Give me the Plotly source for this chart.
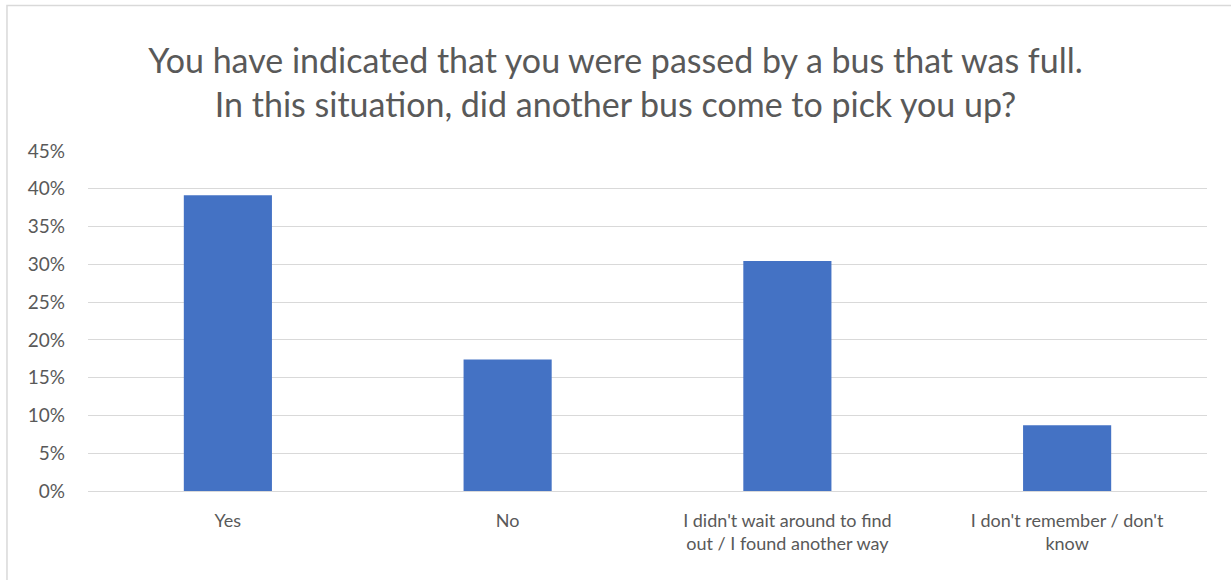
import plotly.graph_objects as go

categories = [
    "Yes",
    "No",
    "I didn't wait around to find<br>out / I found another way",
    "I don't remember / don't<br>know",
]
shares = [0.3913, 0.1739, 0.3043, 0.0870]
y_ticks = [0, 0.05, 0.10, 0.15, 0.20, 0.25, 0.30, 0.35, 0.40, 0.45]

title_text = ("You have indicated that you were passed by a bus that was full.<br>"
              "In this situation, did another bus come to pick you up?")

grey = "#595959"

fig = go.Figure()

fig.add_trace(go.Bar(
    x=categories,
    y=shares,
    marker=dict(color="#4472C4", line=dict(width=0)),
    width=0.315,
))

fig.update_layout(
    width=1231,
    height=580,
    margin=dict(l=88, r=24, t=151, b=89),
    paper_bgcolor="white",
    plot_bgcolor="white",
    font=dict(family="Lato", color=grey, size=18),
    title=dict(
        text=title_text,
        x=0.5,
        xanchor="center",
        y=0.874,
        yref="container",
        yanchor="middle",
        font=dict(family="Lato", size=34, color=grey),
    ),
    showlegend=False,
)

fig.update_yaxes(
    range=[0, 0.45],
    tickvals=y_ticks,
    tickformat=".0%",
    showgrid=True,
    gridcolor="#d9d9d9",
    gridwidth=1,
    zeroline=False,
    showline=False,
    ticks="",
    ticklabelstandoff=22,
    tickfont=dict(size=19, color=grey),
)

fig.update_xaxes(
    showline=True,
    linecolor="#d9d9d9",
    linewidth=1,
    ticks="",
    tickfont=dict(size=18, color=grey),
    ticklabelstandoff=13,
)

# chart area border (Excel style)
fig.add_shape(
    type="rect",
    xref="paper", yref="paper",
    x0=-0.0724, x1=1.03, y0=-0.29, y1=1.428,
    line=dict(color="#d9d9d9", width=1.5),
    fillcolor="rgba(0,0,0,0)",
    layer="below",
)

# drop the default page margin so the figure sits at the window's corner
fig.write_html("out.html", config={"displayModeBar": False},
               post_script="document.body.style.margin='0';")
